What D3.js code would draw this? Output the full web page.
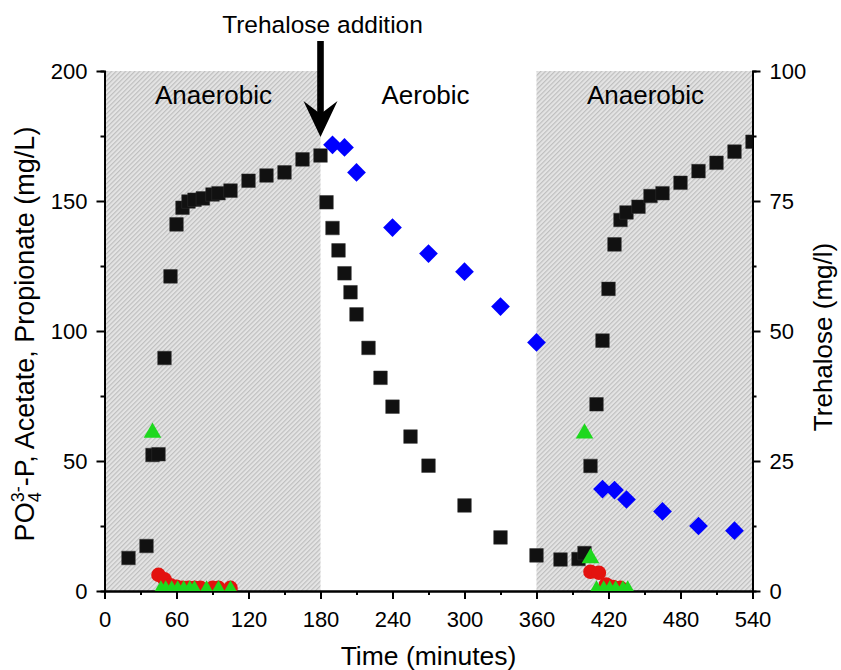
<!DOCTYPE html>
<html>
<head>
<meta charset="utf-8">
<script src="https://cdn.jsdelivr.net/npm/d3@7"></script>
<style>
  body { margin: 0; background: #fff; }
  svg { display: block; font-family: "Liberation Sans", Arial, sans-serif; }
</style>
</head>
<body>
<div id="chart"></div>
<script>
// PO4-P, acetate, propionate (left axis) and trehalose (right axis) over one cycle

const phases = [
  { name: "Anaerobic", start: 0, end: 180, shaded: true },
  { name: "Aerobic", start: 180, end: 360, shaded: false },
  { name: "Anaerobic", start: 360, end: 540, shaded: true }
];

const phosphateTime = [20, 35, 40, 45, 50, 55, 60, 65, 70, 75, 82, 90, 95, 105, 120, 135, 150, 165, 180,
  185, 190, 195, 200, 205, 210, 220, 230, 240, 255, 270, 300, 330, 360, 380, 395, 400,
  405, 410, 415, 420, 425, 430, 435, 445, 455, 465, 480, 495, 510, 525, 540];
const phosphateValue = [12.7, 17.3, 52.3, 52.6, 89.6, 121, 141, 147.4, 149.8, 150.5, 151, 152.5, 153, 154, 157.8, 159.8, 161, 166, 167.5,
  149.5, 139.6, 131, 122.2, 114.9, 106.4, 93.5, 82, 70.9, 59.4, 48.2, 32.9, 20.6, 13.7, 12.1, 12.3, 14.6,
  48.1, 71.8, 96.3, 116.2, 133.3, 142.7, 145.6, 147.8, 151.9, 153, 157, 161.5, 164.7, 169, 172.8];

const acetateTime = [45, 50, 55, 60, 65, 70, 75, 80, 90, 95, 105, 405, 412, 418, 424, 430];
const acetateValue = [6.2, 4.5, 2.2, 1.6, 1.2, 1.2, 1.2, 1.2, 1.2, 1.2, 1.2, 7.4, 7.0, 2.5, 1.5, 1.2];

const propionateTime = [40, 47, 51, 56, 61, 66, 71, 75, 85, 95, 105, 400, 405, 410, 416, 421, 426, 432, 436];
const propionateValue = [60.9, 0.2, 0.2, 0.2, 0.2, 0.2, 0.2, 0.2, 0.2, 0.2, 0.2, 60.6, 12.6, 0.2, 0.2, 0.2, 0.2, 0.2, 0.2];

const trehaloseTime = [190, 200, 210, 240, 270, 300, 330, 360, 415, 425, 435, 465, 495, 525];
const trehaloseValue = [85.8, 85.3, 80.5, 69.9, 64.9, 61.4, 54.7, 47.8, 19.6, 19.4, 17.6, 15.3, 12.5, 11.6];

const xTicks = [0, 60, 120, 180, 240, 300, 360, 420, 480, 540];
const yLeftTicks = [0, 50, 100, 150, 200];
const yRightTicks = [0, 25, 50, 75, 100];
const additionTime = 180;

const width = 841,
  height = 670,
  margin = { top: 71, right: 88.5, bottom: 79, left: 104.5 };

const svg = d3.select("#chart")
  .append("svg")
  .attr("width", width)
  .attr("height", height);

const x = d3.scaleLinear().domain([0, 540]).range([margin.left, width - margin.right]);
const y = d3.scaleLinear().domain([0, 200]).range([height - margin.bottom, margin.top]);
const y2 = d3.scaleLinear().domain([0, 100]).range([height - margin.bottom, margin.top]);

// hatch pattern for the anaerobic phases
const defs = svg.append("defs");
const pattern = defs.append("pattern")
  .attr("id", "hatch")
  .attr("patternUnits", "userSpaceOnUse")
  .attr("width", 3.3)
  .attr("height", 3.3)
  .attr("patternTransform", "rotate(45)");
pattern.append("rect").attr("width", 3.3).attr("height", 3.3).attr("fill", "#e4e4e4");
pattern.append("line")
  .attr("x1", 0.6).attr("x2", 0.6).attr("y1", 0).attr("y2", 3.3)
  .attr("stroke", "#bdbdbd").attr("stroke-width", 1.1);

defs.append("clipPath").attr("id", "plot-clip")
  .append("rect")
  .attr("x", x(0)).attr("y", y(200))
  .attr("width", x(540) - x(0)).attr("height", y(0) - y(200));

svg.append("g")
  .selectAll("rect")
  .data(phases.filter(d => d.shaded))
  .join("rect")
  .attr("x", d => x(d.start))
  .attr("width", d => x(d.end) - x(d.start))
  .attr("y", y(200))
  .attr("height", y(0) - y(200))
  .attr("fill", "url(#hatch)");

// phase names
svg.append("g")
  .selectAll("text")
  .data(phases)
  .join("text")
  .attr("x", d => x((d.start + d.end) / 2) + (d.shaded ? 1 : -3))
  .attr("y", 104)
  .attr("text-anchor", "middle")
  .attr("font-size", 26)
  .text(d => d.name);

// axes
const xAxis = d3.axisBottom(x).tickValues(xTicks).tickSize(8).tickSizeOuter(0).tickPadding(6);
const xMinor = d3.axisBottom(x).tickValues(xTicks.slice(0, -1).map(t => t + 30)).tickSize(4).tickFormat("");
const yAxis = d3.axisLeft(y).tickValues(yLeftTicks).tickSize(8).tickSizeOuter(0).tickPadding(9);
const yMinor = d3.axisLeft(y).tickValues(yLeftTicks.slice(0, -1).map(t => t + 25)).tickSize(4).tickFormat("");
const y2Axis = d3.axisRight(y2).tickValues(yRightTicks).tickSize(8).tickSizeOuter(0).tickPadding(9);
const y2Minor = d3.axisRight(y2).tickValues(yRightTicks.slice(0, -1).map(t => t + 12.5)).tickSize(4).tickFormat("");

function styleAxis(g) {
  g.selectAll("path").attr("stroke", "#000").attr("stroke-width", 2);
  g.selectAll("line").attr("stroke", "#000").attr("stroke-width", 2);
  g.selectAll("text").attr("font-size", 22).attr("fill", "#000").attr("font-family", "Liberation Sans, Arial, sans-serif");
}

svg.append("g").attr("transform", `translate(0,${y(0)})`).call(xAxis).call(styleAxis)
  .selectAll("text").attr("dy", "0.99em");
svg.append("g").attr("transform", `translate(0,${y(0)})`).call(xMinor).call(styleAxis);
svg.append("g").attr("transform", `translate(${x(0)},0)`).call(yAxis).call(styleAxis);
svg.append("g").attr("transform", `translate(${x(0)},0)`).call(yMinor).call(styleAxis);
svg.append("g").attr("transform", `translate(${x(540)},0)`).call(y2Axis).call(styleAxis);
svg.append("g").attr("transform", `translate(${x(540)},0)`).call(y2Minor).call(styleAxis);

// markers
const marks = svg.append("g").attr("clip-path", "url(#plot-clip)");

const phosphate = phosphateTime.map((t, i) => ({ t, v: phosphateValue[i] }));
const acetate = acetateTime.map((t, i) => ({ t, v: acetateValue[i] }));
const propionate = propionateTime.map((t, i) => ({ t, v: propionateValue[i] }));
const trehalose = trehaloseTime.map((t, i) => ({ t, v: trehaloseValue[i] }));

marks.append("g")
  .selectAll("path")
  .data(phosphate)
  .join("path")
  .attr("d", d3.symbol(d3.symbolSquare, 185))
  .attr("transform", d => `translate(${x(d.t)},${y(d.v)})`)
  .attr("fill", "#111")
  .attr("stroke", "#333")
  .attr("stroke-width", 0.5);

marks.append("g")
  .selectAll("circle")
  .data(acetate)
  .join("circle")
  .attr("cx", d => x(d.t))
  .attr("cy", d => y(d.v))
  .attr("r", 7.3)
  .attr("fill", "#e3120f");

marks.append("g")
  .selectAll("path")
  .data(propionate)
  .join("path")
  .attr("d", d3.symbol(d3.symbolTriangle, 135))
  .attr("transform", d => `translate(${x(d.t)},${y(d.v)})`)
  .attr("fill", "#1ed81e");

marks.append("g")
  .selectAll("path")
  .data(trehalose)
  .join("path")
  .attr("d", d3.symbol(d3.symbolSquare, 175))
  .attr("transform", d => `translate(${x(d.t)},${y2(d.v)}) rotate(45)`)
  .attr("fill", "#0000ff");

// trehalose addition arrow
const ax = x(additionTime);
svg.append("rect")
  .attr("x", ax - 3.3).attr("y", 41)
  .attr("width", 6.6).attr("height", 76)
  .attr("fill", "#000");
svg.append("path")
  .attr("d", `M${ax},137 L${ax - 17},101 L${ax},114 L${ax + 17},101 Z`)
  .attr("fill", "#000");
svg.append("text")
  .attr("x", ax + 2)
  .attr("y", 33)
  .attr("text-anchor", "middle")
  .attr("font-size", 24.5)
  .text("Trehalose addition");

// axis titles
svg.append("text")
  .attr("x", (x(0) + x(540)) / 2)
  .attr("y", 665)
  .attr("text-anchor", "middle")
  .attr("font-size", 26.5)
  .text("Time (minutes)");

const leftTitle = svg.append("text")
  .attr("transform", `translate(34,${(y(0) + y(200)) / 2 + 3}) rotate(-90)`)
  .attr("text-anchor", "middle")
  .attr("font-size", 27);
leftTitle.append("tspan").text("PO");
leftTitle.append("tspan").attr("font-size", 18).attr("dy", 7).text("4");
leftTitle.append("tspan").attr("font-size", 18).attr("dy", -17).attr("dx", -10).text("3-");
leftTitle.append("tspan").attr("dy", 10).text("-P, Acetate, Propionate (mg/L)");

svg.append("text")
  .attr("transform", `translate(832,${(y(0) + y(200)) / 2 + 6}) rotate(-90)`)
  .attr("text-anchor", "middle")
  .attr("font-size", 26)
  .text("Trehalose (mg/l)");
</script>
</body>
</html>
